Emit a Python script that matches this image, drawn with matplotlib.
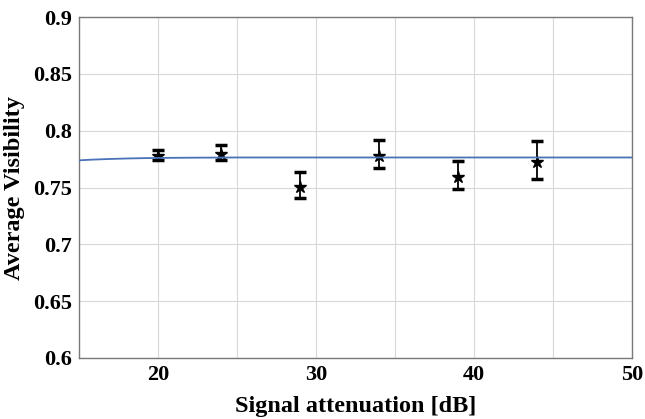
import numpy as np
import matplotlib.pyplot as plt

plt.rcParams['font.family'] = ['Liberation Serif', 'DejaVu Serif']
plt.rcParams['font.weight'] = 'bold'

# measured points
atten = [20, 24, 29, 34, 39, 44]
vis = [0.778, 0.780, 0.7503, 0.778, 0.7596, 0.7722]
err_lo = [0.7746, 0.7746, 0.7406, 0.7673, 0.7485, 0.7576]
err_hi = [0.783, 0.7874, 0.7637, 0.7915, 0.7731, 0.7906]

# fit curve
fit_x = [15, 16, 17, 18, 19, 20, 22, 25, 30, 40, 50]
fit_y = [0.7740, 0.7747, 0.7752, 0.7756, 0.7759, 0.7761, 0.7763, 0.7765, 0.7765, 0.7765, 0.7765]

vis = np.array(vis)
yerr = [vis - np.array(err_lo), np.array(err_hi) - vis]

fig = plt.figure(figsize=(6.45, 4.19), dpi=100)
ax = fig.add_axes([0.1225, 0.1456, 0.8575, 0.8134])

ax.errorbar(atten, vis, yerr=yerr, fmt='*', color='black', ms=9,
            ecolor='black', elinewidth=1.3, capsize=4, capthick=2.5, zorder=3)
ax.plot(fit_x, fit_y, color='#4a72b8', lw=1.3, zorder=4)

ax.set_xlim(15, 50)
ax.set_ylim(0.6, 0.9)
ax.set_xticks([20, 30, 40, 50])
ax.set_xticks([25, 35, 45], minor=True)
ax.set_yticks(np.arange(0.6, 0.901, 0.05))
ax.set_yticklabels(['0.6', '0.65', '0.7', '0.75', '0.8', '0.85', '0.9'])
ax.grid(True, which='both', color='#d8d8d8', lw=0.8)
ax.set_axisbelow(True)
ax.tick_params(which='both', length=0, labelsize=16, pad=5)
for s in ax.spines.values():
    s.set_color('#7a7a7a')
    s.set_linewidth(1.0)

ax.set_xlabel('Signal attenuation [dB]', fontsize=17.5, fontweight='bold', labelpad=8)
ax.set_ylabel('Average Visibility', fontsize=17.5, fontweight='bold', labelpad=6)

fig.savefig('out.png', dpi=100)
